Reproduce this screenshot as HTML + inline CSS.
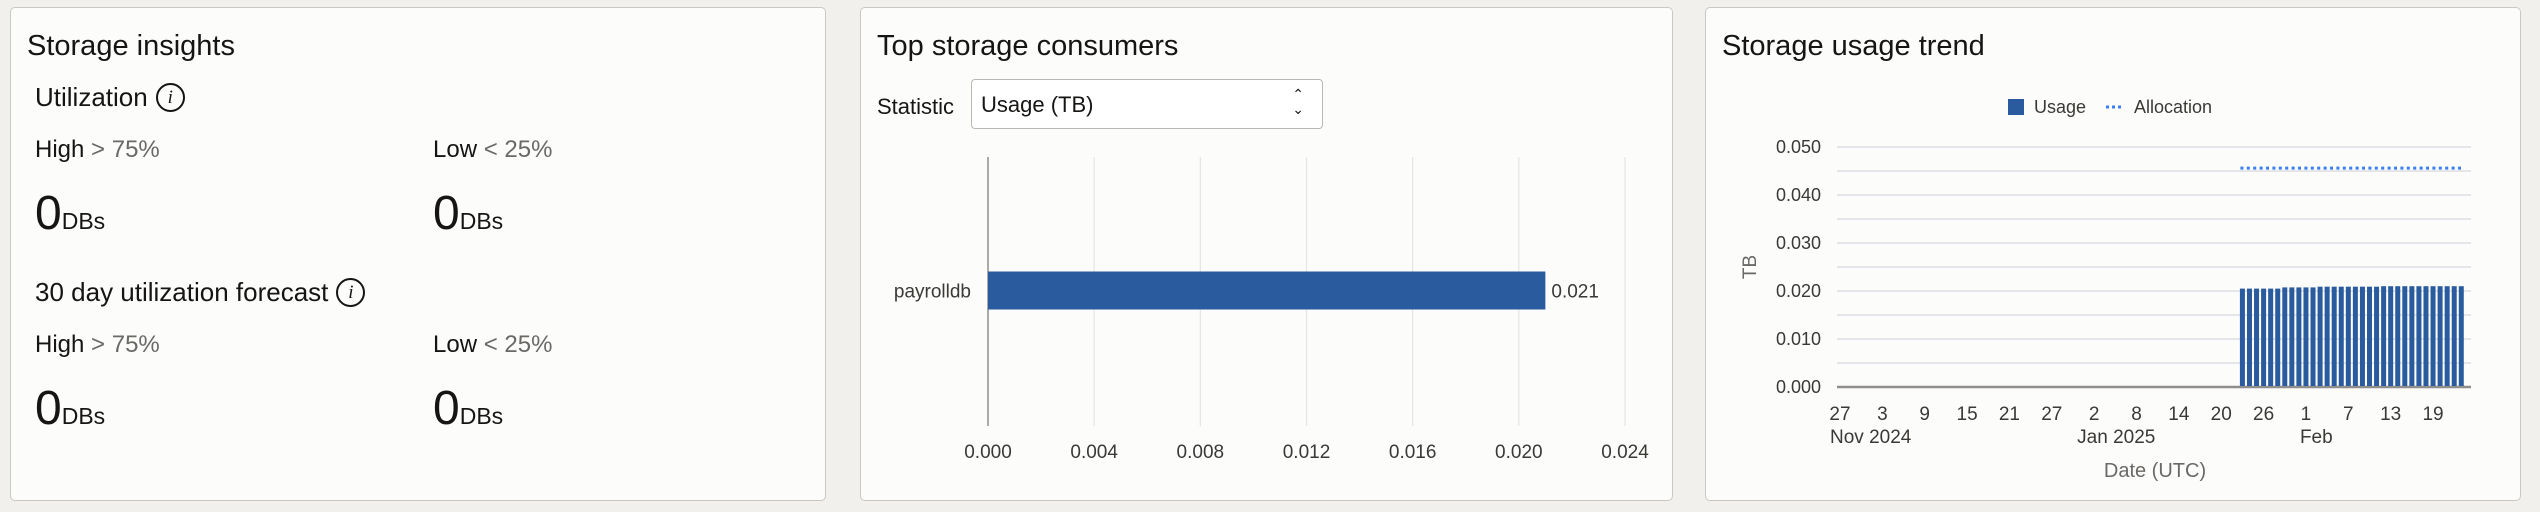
<!DOCTYPE html>
<html><head><meta charset="utf-8"><style>
html,body{margin:0;padding:0;width:2540px;height:512px;overflow:hidden;background:#f1f0ed;font-family:"Liberation Sans",sans-serif;color:#161513}
.panel{position:absolute;top:7px;height:494px;background:#fcfcfb;border:1.5px solid #c9c8c5;border-radius:5px;box-sizing:border-box}
.t{position:absolute;white-space:nowrap}
.title{font-size:29px}
.sub{font-size:26px}
.lbl{font-size:24px}
.lbl span{color:#6a6966}
.big{font-size:48px;line-height:1}
.big small{font-size:23px}
.info{display:inline-block;width:25px;height:25px;border:2px solid #161513;border-radius:50%;font-family:"Liberation Serif",serif;font-style:italic;font-size:19px;text-align:center;line-height:25px;vertical-align:3px;margin-left:8px}
svg{position:absolute;left:0;top:0}
</style></head><body>
<div class="panel" style="left:10px;width:816px">
  <div class="t title" style="left:16px;top:22px">Storage insights</div>
  <div class="t sub" style="left:24px;top:74px">Utilization<span class="info">i</span></div>
  <div class="t lbl" style="left:24px;top:128px">High <span>&gt; 75%</span></div>
  <div class="t lbl" style="left:422px;top:128px">Low <span>&lt; 25%</span></div>
  <div class="t big" style="left:24px;top:182px">0<small>DBs</small></div>
  <div class="t big" style="left:422px;top:182px">0<small>DBs</small></div>
  <div class="t sub" style="left:24px;top:269px">30 day utilization forecast<span class="info">i</span></div>
  <div class="t lbl" style="left:24px;top:323px">High <span>&gt; 75%</span></div>
  <div class="t lbl" style="left:422px;top:323px">Low <span>&lt; 25%</span></div>
  <div class="t big" style="left:24px;top:377px">0<small>DBs</small></div>
  <div class="t big" style="left:422px;top:377px">0<small>DBs</small></div>
</div>
<div class="panel" style="left:860px;width:813px">
  <div class="t title" style="left:16px;top:22px">Top storage consumers</div>
  <div class="t" style="left:16px;top:88px;font-size:22px;line-height:22px">Statistic</div>
  <div class="t" style="left:110px;top:71px;width:352px;height:50px;border:1.5px solid #b9b8b5;border-radius:4px;background:#fff;box-sizing:border-box">
    <span style="position:absolute;left:9px;top:12px;font-size:22px">Usage (TB)</span>
    <span style="position:absolute;right:18px;top:7px;font-size:14px;line-height:15px;text-align:center">&#8963;<br>&#8964;</span>
  </div>
</div>
<div class="panel" style="left:1705px;width:816px">
  <div class="t title" style="left:16px;top:22px">Storage usage trend</div>
</div>
<svg id="chart" width="2540" height="512"></svg>
<script>
// ---- Top consumers bar chart data
const consumerCats = ["payrolldb"];
const consumerVals = [0.021];
const consumerTicks = [0, 0.004, 0.008, 0.012, 0.016, 0.020, 0.024];
const consumerTickLabels = ["0.000","0.004","0.008","0.012","0.016","0.020","0.024"];
// ---- Usage trend data
const trendYTicks = [0, 0.010, 0.020, 0.030, 0.040, 0.050];
const trendYTickLabels = ["0.000","0.010","0.020","0.030","0.040","0.050"];
const trendXTickDays = ["2024-11-27","2024-12-03","2024-12-09","2024-12-15","2024-12-21","2024-12-27","2025-01-02","2025-01-08","2025-01-14","2025-01-20","2025-01-26","2025-02-01","2025-02-07","2025-02-13","2025-02-19"];
const trendXTickLabels = ["27","3","9","15","21","27","2","8","14","20","26","1","7","13","19"];
const trendMonthLabels = ["Nov 2024","Jan 2025","Feb"];
const trendMonthDates = ["2024-11-27","2025-01-02","2025-02-01"];
const usageStart = "2025-01-23";
const usageVals = [0.0205,0.0205,0.0205,0.0205,0.0205,0.0205,0.02075,0.02075,0.02075,0.02075,0.02075,0.0209,0.0209,0.0209,0.0209,0.0209,0.0209,0.0209,0.0209,0.0209,0.0210,0.0210,0.0210,0.0210,0.0210,0.0210,0.0210,0.0210,0.0210,0.0210,0.0210,0.0210];
const allocVals = [0.0456,0.0456,0.0456,0.0456,0.0456,0.0456,0.0456,0.0456,0.0456,0.0456,0.0456,0.0456,0.0456,0.0456,0.0456,0.0456,0.0456,0.0456,0.0456,0.0456,0.0456,0.0456,0.0456,0.0456,0.0456,0.0456,0.0456,0.0456,0.0456,0.0456,0.0456,0.0456];

const svg = document.getElementById('chart');
const NS = 'http://www.w3.org/2000/svg';
function mk(tag, attrs, parent){const e=document.createElementNS(NS,tag);for(const k in attrs)e.setAttribute(k,attrs[k]);(parent||svg).appendChild(e);return e;}
function txt(s, attrs){const e=mk('text',Object.assign({'font-family':'Liberation Sans, sans-serif',fill:'#161513'},attrs));e.textContent=s;return e;}

// ---- Chart 2: horizontal bars
const bx0=988, bx1=1625, by0=157, by1=426;
const bX = v => bx0 + v/0.024*(bx1-bx0);
consumerTicks.forEach((t,i)=>{
  const l=mk('line',{x1:bX(t),x2:bX(t),y1:by0,y2:by1,stroke:i===0?'#8f8e8b':'#e5e5e3','stroke-width':i===0?1.5:1.2});
  
  
  const tl=txt(consumerTickLabels[i],{x:bX(t),y:458,'font-size':19,'text-anchor':'middle',fill:'#3a3936'});
  
  
});
const band=(by1-by0)/consumerCats.length;
consumerCats.forEach((c,i)=>{
  const cy=by0+band*(i+0.5)-1;
  const r=mk('rect',{x:bX(0),y:cy-19,width:bX(consumerVals[i])-bX(0),height:38,fill:'#2a5b9e'});
  
  
  const cl=txt(c,{x:971,y:cy+7,'font-size':19,'text-anchor':'end',fill:'#3a3936'});
  
  
  const vl=txt(consumerVals[i].toFixed(3),{x:bX(consumerVals[i])+6,y:cy+7,'font-size':19,fill:'#3a3936'});
  
  
});

// ---- Chart 3: usage trend
const px0=1837, px1=2471, py0=147, py1=387;
const day0=Date.UTC(2024,10,27);
const pd = s=>{const p=s.split('-');return (Date.UTC(+p[0],+p[1]-1,+p[2])-day0)/86400000;};
const tX = d => 1840 + d*7.06;
const tY = v => py1 - v/0.05*(py1-py0);
for(let k=0;k<=10;k++){
  const v=k*0.005;
  const g=mk('line',{x1:px0,x2:px1,y1:tY(v),y2:tY(v),stroke:k===0?'#8f8e8b':'#e3e5e8','stroke-width':k===0?2.5:2});
  
  
}
trendYTicks.forEach((t,i)=>{
  const e=txt(trendYTickLabels[i],{x:1821,y:tY(t)+6,'font-size':18,'text-anchor':'end',fill:'#3a3936'});
  
  
});
trendXTickDays.forEach((d,i)=>{
  const e=txt(trendXTickLabels[i],{x:tX(pd(d)),y:420,'font-size':19,'text-anchor':'middle',fill:'#3a3936'});
  
  
});
trendMonthLabels.forEach((m,i)=>{
  const e=txt(m,{x:tX(pd(trendMonthDates[i]))-(i===0?10:(i===1?17:6)),y:443,'font-size':19,fill:'#3a3936'});
  
  
});
const s0=pd(usageStart);
usageVals.forEach((v,i)=>{
  const x=tX(s0+i);
  const r=mk('rect',{x:x-2.5,y:tY(v),width:5,height:tY(0)-tY(v)-1,fill:'#2a5b9e'});
  
  
});
let pts=allocVals.map((v,i)=>`${tX(s0+i)-(i===0?2:0)},${tY(v)}`).join(' ');
const al=mk('polyline',{points:pts,fill:'none',stroke:'#3a7ff0','stroke-width':3,'stroke-dasharray':'3 3.4'});


// legend
const lr=mk('rect',{x:2008,y:99,width:16,height:16,fill:'#2a5b9e'});


const lt1=txt('Usage',{x:2034,y:113,'font-size':18,fill:'#3a3936'});


const ll=mk('line',{x1:2106,x2:2124,y1:107,y2:107,stroke:'#3a7ff0','stroke-width':3,'stroke-dasharray':'3 3'});


const lt2=txt('Allocation',{x:2134,y:113,'font-size':18,fill:'#3a3936'});


const yt=txt('TB',{x:0,y:0,'font-size':19,fill:'#6a6966','text-anchor':'middle',transform:'translate(1756,267) rotate(-90)'});


const xt=txt('Date (UTC)',{x:2155,y:477,'font-size':20,fill:'#6a6966','text-anchor':'middle'});


</script>
</body></html>
